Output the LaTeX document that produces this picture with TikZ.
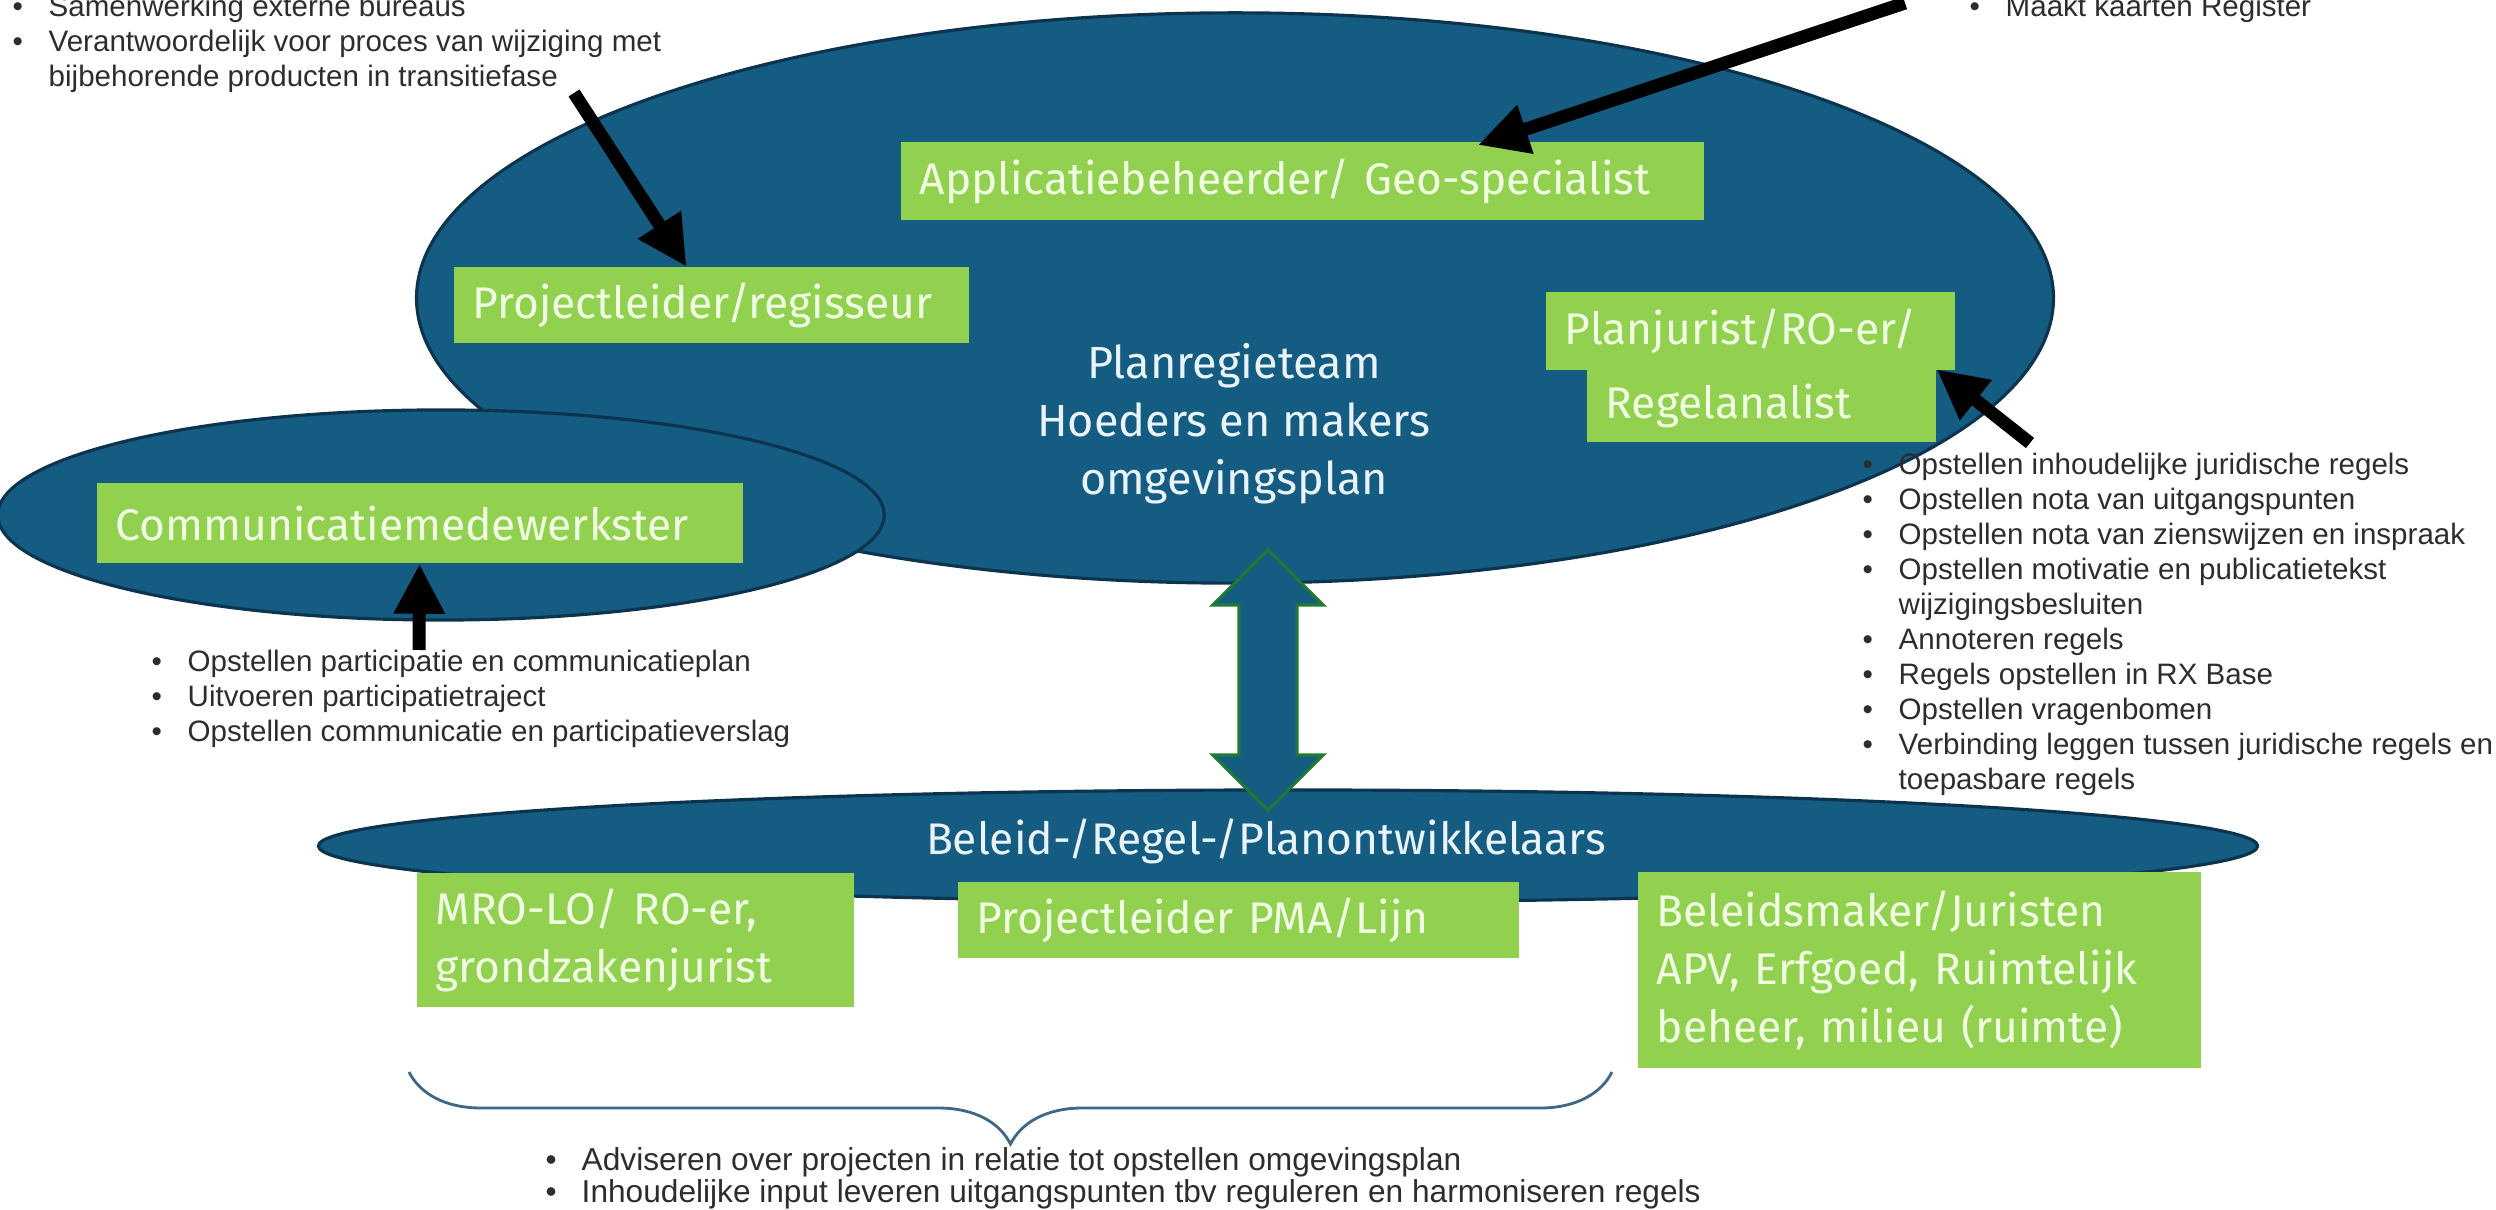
\documentclass[tikz,border=0pt]{standalone}
\usepackage{fontspec}
\setmainfont{Liberation Sans}
\newfontfamily\rolefont{Fira Sans}
\usetikzlibrary{shapes.geometric,shapes.arrows,arrows.meta,decorations.pathreplacing}
\definecolor{teamblue}{RGB}{21,92,130}
\definecolor{edgeblue}{RGB}{12,52,78}
\definecolor{rolegreen}{RGB}{146,208,80}
\definecolor{roletext}{RGB}{240,255,226}
\definecolor{teamtext}{RGB}{232,243,250}
\definecolor{linkgreen}{RGB}{30,122,52}
\definecolor{bracegray}{RGB}{62,104,134}
\definecolor{listgray}{RGB}{45,45,45}
\tikzset{
  blob/.style={draw=edgeblue,fill=teamblue,shape=ellipse,line width=0.9pt,inner sep=0pt},
  role/.style={fill=rolegreen,text=roletext,anchor=west,align=left,inner xsep=0.19cm,inner ysep=0pt,font=\rolefont\fontsize{12.6}{16.5}\selectfont},
  pointer/.style={-{Triangle[length=5mm,width=4.8mm]},line width=1.3mm},
  tasks/.style={anchor=north west,align=left,inner sep=0pt,text=listgray,font=\fontsize{8.4}{9.95}\selectfont},
}
\newcommand{\itm}{\makebox[0.36cm][l]{\textbullet}}
\newcommand{\cnt}{\hspace*{0.36cm}}
\begin{document}
\begin{tikzpicture}[x=0.01cm,y=-0.01cm]
\useasboundingbox (0,0) rectangle (2496,1210);
\node [blob,name=team,minimum width=16.36cm,minimum height=5.70cm] at (1235,298){};
\node [blob,name=commblob,minimum width=8.86cm,minimum height=2.10cm] at (441,515){};
\node [blob,name=devblob,minimum width=19.38cm,minimum height=1.12cm] at (1288,846){};
\node [draw=linkgreen,fill=teamblue,line width=0.9pt,shape=double arrow,rotate=90,double arrow head extend=0.26cm,double arrow tip angle=90,inner xsep=0pt,inner ysep=0.275cm,minimum height=2.6cm,name=link] at (1268,680){};
\node [text=teamtext,align=center,font=\rolefont\fontsize{12.8}{16.5}\selectfont,name=teamtxt] at (1234,424){Planregieteam\\Hoeders en makers\\omgevingsplan};
\node [text=teamtext,font=\rolefont\fontsize{12.6}{16.5}\selectfont,name=devtxt] at (1266,841){Beleid-/Regel-/Planontwikkelaars};
\node [role,name=app,text width=7.65cm,minimum height=0.78cm] at (900,181){Applicatiebeheerder/ Geo-specialist};
\node [role,name=proj,text width=4.77cm,minimum height=0.75cm] at (453,305){Projectleider/regisseur};
\node [role,name=plt,text width=3.71cm,minimum height=0.78cm] at (1545,331){Planjurist/RO-er/};
\node [role,name=plb,text width=3.11cm,minimum height=0.72cm] at (1586,406){Regelanalist};
\node [role,name=comm,text width=6.08cm,minimum height=0.80cm] at (96,523){Communicatiemedewerkster};
\node [role,name=mro,text width=3.99cm,minimum height=1.34cm] at (416,940){MRO-LO/ RO-er,\\grondzakenjurist};
\node [role,name=pma,text width=5.23cm,minimum height=0.76cm] at (957,920){Projectleider PMA/Lijn};
\node [role,name=bel,text width=5.25cm,minimum height=1.95cm] at (1637,970){Beleidsmaker/Juristen\\APV, Erfgoed, Ruimtelijk\\beheer, milieu (ruimte)};
\node [tasks,name=leadtasks] at (12,-6){\itm Samenwerking externe bureaus\\\itm Verantwoordelijk voor proces van wijziging met\\\cnt bijbehorende producten in transitiefase};
\node [tasks,name=geotasks] at (1969,-6){\itm Maakt kaarten Register};
\node [tasks,name=jurtasks] at (1862,452){\itm Opstellen inhoudelijke juridische regels\\\itm Opstellen nota van uitgangspunten\\\itm Opstellen nota van zienswijzen en inspraak\\\itm Opstellen motivatie en publicatietekst\\\cnt wijzigingsbesluiten\\\itm Annoteren regels\\\itm Regels opstellen in RX Base\\\itm Opstellen vragenbomen\\\itm Verbinding leggen tussen juridische regels en\\\cnt toepasbare regels};
\node [tasks,name=commtasks] at (151,649){\itm Opstellen participatie en communicatieplan\\\itm Uitvoeren participatietraject\\\itm Opstellen communicatie en participatieverslag};
\node [tasks,name=devtasks,font=\fontsize{9}{9.1}\selectfont] at (545,1147){\itm Adviseren over projecten in relatie tot opstellen omgevingsplan\\\itm Inhoudelijke input leveren uitgangspunten tbv reguleren en harmoniseren regels};
\coordinate (bracel) at (409,1072);
\coordinate (bracer) at (1612,1072);
\draw [bracegray,line width=0.8pt,decorate,decoration={brace,mirror,amplitude=0.72cm}] (bracel)--(bracer);
\coordinate (projtail) at (574,93);
\draw [pointer] (projtail)--(proj);
\coordinate (apptail) at (1905,3);
\draw [pointer,shorten >=-1.2mm] (apptail)--(app.12);
\coordinate (jurtail) at (2030,443);
\draw [pointer] (jurtail)--(plb.north east);
\coordinate (commtail) at (419,650);
\draw [pointer] (commtail)--(comm);
\end{tikzpicture}
\end{document}
